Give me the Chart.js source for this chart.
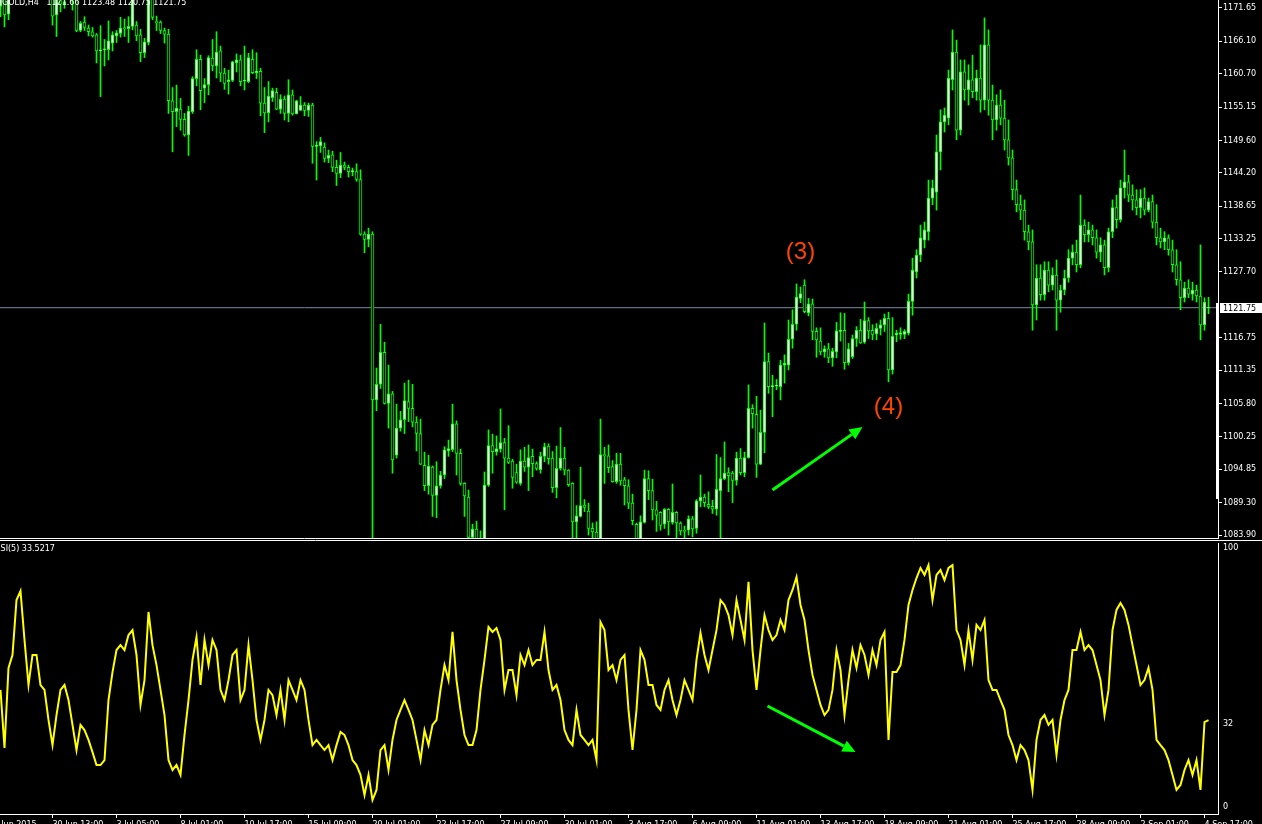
<!DOCTYPE html>
<html>
<head>
<meta charset="utf-8">
<title>GOLD H4 with RSI(5)</title>
<script src="https://cdn.jsdelivr.net/npm/chart.js@4.4.1/dist/chart.umd.min.js"></script>
<style>
  html, body { margin: 0; padding: 0; background: #000; overflow: hidden; }
  #wrap { position: relative; width: 1262px; height: 824px; background: #000; }
  canvas { position: absolute; left: 0; }
  #priceChart { top: 0; }
  #rsiChart { top: 539px; }
</style>
</head>
<body>
<div id="wrap">
  <canvas id="priceChart" width="1262" height="539"></canvas>
  <canvas id="rsiChart" width="1262" height="285"></canvas>
</div>
<script>
// H4 bars, oldest first
const opens = [
  1171.9,1173.3,1170.6,1173.8,1175.0,1174.6,1176.3,1175.6,1174.8,1175.5,
  1176.4,1175.2,1174.3,1174.1,1170.5,1173.3,1172.3,1173.2,1174.8,1173.6,
  1167.9,1169.3,1168.3,1167.7,1167.2,1164.5,1164.7,1164.7,1165.8,1167.0,
  1167.4,1168.3,1168.2,1168.6,1168.8,1167.2,1164.2,1165.9,1174.1,1169.3,
  1169.3,1167.9,1167.3,1156.2,1154.4,1154.8,1153.1,1150.5,1154.4,1159.9,
  1163.1,1158.3,1158.9,1163.3,1162.0,1164.5,1160.8,1159.4,1159.6,1162.5,
  1163.0,1159.5,1159.4,1163.1,1160.9,1161.1,1155.8,1154.2,1156.7,1157.6,
  1154.8,1156.5,1154.1,1157.2,1154.0,1154.6,1155.5,1154.6,1155.5,1148.6,
  1148.7,1148.5,1146.6,1147.2,1145.1,1144.1,1145.5,1145.1,1144.4,1144.4,
  1143.1,1134.0,1133.1,1134.0,1106.4,1109.0,1114.3,1105.8,1107.4,1097.2,
  1101.7,1103.1,1106.1,1105.0,1102.7,1100.8,1095.5,1092.1,1095.2,1090.5,
  1092.1,1093.9,1097.9,1098.1,1102.4,1097.5,1092.5,1090.2,1083.5,1084.9,
  1082.8,1082.2,1092.2,1098.8,1097.8,1098.2,1099.3,1096.7,1096.2,1094.3,
  1092.5,1096.2,1095.2,1097.0,1095.8,1094.8,1097.0,1098.7,1096.7,1091.8,
  1095.0,1096.7,1094.7,1092.5,1086.1,1087.0,1088.9,1087.9,1085.0,1084.4,
  1082.8,1097.3,1097.1,1095.3,1092.8,1095.7,1093.1,1092.1,1089.2,1085.7,
  1082.5,1086.0,1093.3,1091.3,1088.1,1087.7,1085.7,1088.2,1086.0,1087.7,
  1085.9,1084.7,1084.7,1086.6,1085.0,1089.6,1090.2,1089.0,1088.7,1088.2,
  1091.3,1093.3,1094.3,1094.2,1093.0,1096.7,1094.3,1096.8,1105.0,1104.0,
  1095.7,1101.0,1112.8,1108.6,1108.7,1108.6,1112.2,1112.2,1116.5,1119.0,
  1123.3,1125.5,1120.9,1122.4,1117.8,1116.2,1114.4,1114.9,1113.4,1114.4,
  1117.8,1118.0,1112.6,1113.6,1116.6,1118.0,1116.0,1119.6,1118.0,1117.4,
  1118.3,1118.9,1120.0,1111.4,1117.2,1117.3,1117.3,1117.5,1122.8,1127.7,
  1130.5,1133.0,1134.4,1140.0,1141.0,1147.7,1152.7,1153.3,1159.7,1164.3,
  1151.3,1161.0,1158.0,1159.7,1157.7,1160.0,1156.3,1165.5,1156.3,1153.0,
  1155.5,1153.3,1149.7,1146.7,1141.4,1138.9,1138.0,1134.4,1132.7,1122.2,
  1126.7,1123.9,1128.0,1125.5,1127.2,1123.0,1124.7,1126.7,1130.0,1131.0,
  1128.9,1135.5,1133.9,1134.7,1133.4,1131.0,1132.2,1128.4,1134.4,1138.4,
  1136.4,1141.7,1142.7,1140.5,1139.7,1138.4,1140.0,1138.0,1139.4,1136.0,
  1133.4,1132.7,1133.4,1131.4,1128.9,1126.4,1123.4,1125.0,1124.0,1124.7,
  1123.7,1118.9,1121.66
];
const highs = [
  1174.6,1174.1,1174.4,1175.6,1176.2,1176.8,1177.4,1176.4,1176.0,1177.0,
  1177.2,1176.1,1175.4,1175.2,1173.5,1173.8,1173.5,1175.5,1175.8,1174.2,
  1169.4,1170.2,1168.8,1168.4,1167.4,1168.7,1166.4,1169.5,1167.7,1167.9,
  1170.1,1169.8,1170.2,1174.6,1169.4,1168.1,1166.6,1175.2,1174.9,1170.3,
  1169.5,1168.3,1168.1,1158.4,1158.8,1156.6,1154.1,1155.3,1160.2,1164.7,
  1163.8,1159.9,1163.7,1166.4,1167.7,1165.3,1161.6,1161.3,1162.8,1164.0,
  1163.8,1165.3,1164.1,1164.7,1164.2,1161.6,1158.4,1159.4,1158.3,1158.3,
  1157.2,1157.0,1159.7,1158.0,1156.3,1156.9,1155.9,1155.8,1155.8,1149.4,
  1150.1,1149.2,1148.0,1147.8,1146.3,1147.6,1146.0,1145.5,1145.0,1145.7,
  1144.7,1134.4,1135.0,1134.4,1111.7,1119.0,1116.0,1112.2,1107.8,1105.7,
  1104.5,1109.2,1109.7,1109.0,1103.6,1103.2,1097.7,1097.2,1095.4,1096.1,
  1094.5,1098.6,1099.7,1105.7,1102.9,1098.2,1092.6,1091.4,1085.7,1086.2,
  1084.6,1094.4,1101.4,1100.7,1100.4,1104.9,1100.0,1102.1,1096.5,1095.7,
  1098.1,1098.5,1098.9,1098.2,1096.1,1097.7,1099.2,1099.1,1097.8,1098.7,
  1101.8,1098.5,1094.8,1092.6,1088.8,1095.2,1089.8,1089.2,1085.9,1086.1,
  1103.2,1098.5,1098.9,1096.3,1097.5,1097.5,1093.5,1093.1,1090.7,1085.9,
  1087.1,1094.7,1094.6,1093.2,1089.5,1087.8,1088.3,1088.3,1092.4,1087.8,
  1086.1,1085.4,1087.1,1087.0,1089.8,1093.9,1090.7,1091.1,1089.7,1097.3,
  1096.8,1099.4,1095.1,1094.5,1097.7,1098.3,1097.7,1108.9,1105.6,1107.0,
  1104.7,1119.2,1114.2,1110.5,1109.8,1113.0,1113.9,1119.7,1121.4,1125.7,
  1125.2,1126.4,1123.3,1123.2,1118.4,1118.4,1115.4,1115.8,1115.0,1119.3,
  1120.9,1120.8,1115.8,1117.2,1118.6,1119.8,1122.7,1120.1,1118.9,1119.1,
  1119.7,1120.7,1121.0,1120.1,1118.0,1118.4,1118.1,1124.0,1130.0,1131.4,
  1135.5,1136.0,1143.0,1143.0,1150.5,1154.7,1155.0,1161.3,1168.0,1166.3,
  1163.0,1163.0,1162.2,1163.8,1161.3,1165.5,1170.0,1168.0,1158.8,1157.2,
  1158.0,1156.3,1153.0,1148.0,1143.0,1140.5,1139.7,1135.5,1134.7,1128.9,
  1128.9,1129.4,1129.4,1128.4,1129.7,1125.5,1128.0,1131.4,1132.2,1133.0,
  1140.5,1136.4,1136.0,1135.5,1134.7,1133.4,1133.0,1135.0,1139.7,1140.5,
  1143.0,1148.0,1143.8,1142.2,1141.4,1141.4,1141.7,1140.0,1140.5,1138.9,
  1135.0,1134.4,1133.9,1133.0,1131.4,1129.4,1126.0,1126.4,1126.0,1125.5,
  1132.2,1123.4,1123.48
];
const lows = [
  1170.2,1168.5,1169.7,1173.3,1174.1,1174.0,1175.2,1174.2,1173.6,1175.0,
  1174.9,1173.9,1173.5,1168.8,1166.9,1171.0,1171.6,1173.1,1171.3,1167.7,
  1167.7,1167.9,1167.0,1166.8,1162.5,1156.9,1162.0,1163.0,1164.5,1165.9,
  1166.8,1166.9,1165.9,1168.0,1166.2,1162.7,1163.4,1165.5,1169.7,1167.9,
  1167.4,1165.8,1154.1,1147.7,1151.9,1151.3,1150.3,1147.1,1154.1,1158.7,
  1154.7,1155.9,1157.2,1161.2,1160.0,1159.4,1158.1,1157.3,1159.4,1161.0,
  1158.7,1158.0,1159.2,1160.7,1159.9,1153.7,1150.9,1152.7,1156.1,1154.7,
  1154.1,1153.0,1152.7,1153.8,1154.0,1154.6,1153.7,1153.6,1145.8,1143.0,
  1147.6,1146.0,1145.9,1144.4,1142.1,1143.4,1144.7,1143.5,1143.7,1142.8,
  1133.8,1130.9,1131.9,1081.0,1104.6,1108.3,1105.7,1101.7,1094.2,1096.7,
  1101.2,1100.8,1102.8,1101.9,1097.9,1095.6,1091.3,1090.7,1087.0,1086.8,
  1091.7,1093.3,1097.0,1097.8,1093.9,1092.2,1087.0,1083.0,1082.8,1082.0,
  1081.4,1081.7,1092.0,1094.2,1097.2,1097.7,1088.1,1095.8,1091.7,1092.5,
  1092.2,1094.5,1091.3,1093.6,1094.7,1094.2,1096.1,1095.7,1091.0,1090.1,
  1094.7,1093.9,1092.0,1082.5,1082.5,1086.9,1087.8,1083.9,1082.5,1081.4,
  1082.0,1092.5,1094.3,1092.7,1092.5,1092.2,1088.9,1088.3,1085.6,1081.7,
  1081.7,1085.9,1089.8,1086.4,1084.5,1084.7,1085.0,1083.9,1085.7,1082.8,
  1083.9,1082.8,1083.9,1083.6,1084.2,1088.6,1088.6,1088.3,1087.5,1087.2,
  1081.7,1093.1,1091.1,1089.3,1092.2,1093.9,1093.6,1096.7,1101.7,1093.5,
  1095.6,1097.6,1107.5,1103.6,1108.1,1106.4,1109.2,1111.4,1115.0,1118.0,
  1122.6,1120.9,1120.4,1116.4,1113.5,1113.9,1113.5,1112.6,1112.0,1113.4,
  1116.2,1111.5,1112.2,1113.3,1115.3,1115.8,1115.8,1116.6,1116.4,1116.4,
  1117.2,1117.8,1109.4,1110.7,1116.1,1116.5,1116.6,1117.2,1120.5,1126.7,
  1129.4,1131.7,1133.0,1138.9,1138.0,1144.7,1151.0,1152.2,1158.0,1149.7,
  1150.5,1156.3,1155.5,1156.7,1156.3,1154.3,1154.7,1153.8,1149.7,1151.3,
  1152.2,1148.0,1145.5,1139.7,1137.7,1136.4,1133.0,1131.4,1118.0,1119.7,
  1123.0,1123.0,1124.4,1124.7,1118.0,1121.0,1123.9,1126.0,1128.9,1127.7,
  1128.4,1132.7,1132.7,1132.2,1130.0,1129.4,1127.2,1127.7,1133.4,1135.0,
  1136.0,1140.0,1139.4,1138.0,1137.2,1136.7,1137.2,1137.7,1135.0,1132.2,
  1131.7,1131.4,1130.5,1127.7,1125.5,1121.4,1122.7,1123.4,1123.0,1122.7,
  1116.4,1118.0,1120.75
];
const closes = [
  1173.3,1170.5,1173.8,1175.0,1174.6,1176.3,1175.6,1174.8,1175.5,1176.4,
  1175.2,1174.3,1174.1,1170.3,1173.3,1172.3,1172.7,1174.8,1173.6,1167.9,
  1169.1,1168.4,1167.7,1167.0,1164.5,1164.6,1164.8,1166.2,1167.2,1167.5,
  1168.3,1168.2,1168.6,1173.5,1167.0,1164.2,1166.0,1174.1,1170.1,1169.2,
  1167.9,1167.3,1156.2,1154.4,1155.0,1153.1,1150.5,1154.5,1159.9,1163.1,
  1157.9,1158.9,1163.4,1162.0,1164.3,1160.8,1159.1,1159.7,1162.7,1163.0,
  1159.4,1159.6,1163.4,1160.9,1161.1,1155.8,1154.2,1157.0,1157.9,1154.8,
  1156.5,1154.1,1157.2,1154.0,1156.2,1155.5,1154.6,1155.5,1148.6,1148.8,
  1149.4,1146.6,1147.1,1145.1,1144.1,1145.5,1145.1,1144.4,1144.6,1143.1,
  1134.0,1133.1,1134.0,1106.4,1109.0,1114.3,1105.8,1107.4,1096.4,1101.7,
  1103.1,1106.3,1105.0,1102.7,1100.8,1095.7,1092.1,1095.4,1090.5,1092.1,
  1093.9,1098.1,1098.3,1102.4,1097.5,1092.5,1090.4,1083.5,1084.9,1082.8,
  1082.2,1092.2,1098.8,1097.8,1098.3,1099.3,1096.7,1096.0,1093.5,1092.7,
  1096.2,1095.2,1096.8,1095.8,1095.0,1097.0,1098.6,1096.6,1091.8,1095.0,
  1096.7,1094.7,1092.3,1086.1,1087.1,1088.8,1088.5,1085.0,1084.4,1082.8,
  1097.3,1097.1,1095.1,1092.8,1095.7,1092.9,1092.1,1089.2,1086.3,1082.5,
  1086.1,1093.3,1091.3,1088.1,1087.2,1085.5,1088.2,1086.1,1087.7,1085.9,
  1084.6,1084.5,1086.6,1084.9,1089.6,1090.2,1089.3,1088.6,1088.2,1091.5,
  1093.3,1094.2,1093.8,1093.0,1096.7,1094.3,1096.8,1105.0,1104.1,1095.7,
  1101.0,1112.8,1108.6,1108.7,1108.8,1112.2,1112.5,1116.5,1119.0,1123.5,
  1124.1,1121.1,1122.4,1117.8,1116.4,1114.4,1114.9,1113.4,1114.5,1117.9,
  1118.0,1112.6,1114.9,1116.6,1118.0,1115.9,1119.6,1117.9,1117.3,1118.3,
  1118.9,1120.0,1111.4,1117.0,1117.5,1117.6,1117.8,1122.8,1128.0,1130.5,
  1133.4,1134.7,1140.0,1141.7,1147.7,1152.7,1153.8,1160.0,1164.3,1151.3,
  1161.0,1158.0,1159.7,1157.7,1160.0,1156.3,1165.5,1156.3,1153.0,1155.5,
  1153.3,1149.7,1146.7,1141.4,1138.9,1138.0,1134.4,1132.7,1122.2,1126.7,
  1123.9,1128.0,1125.5,1127.2,1123.0,1124.7,1126.7,1130.0,1131.0,1128.9,
  1135.5,1133.9,1134.7,1133.4,1131.0,1132.2,1128.4,1134.4,1138.4,1136.4,
  1141.7,1142.7,1140.5,1139.7,1138.4,1140.0,1138.0,1139.4,1136.0,1133.4,
  1132.7,1133.4,1131.4,1128.9,1126.4,1123.4,1125.0,1124.0,1124.7,1123.7,
  1118.9,1122.7,1121.75
];
// RSI(5), one value per bar
const rsiValues = [
  45.2,22.8,53.7,58.7,79.9,83.4,64.5,47.1,58.7,58.7,
  47.1,45.2,33.6,23.9,35.5,45.2,47.1,41.3,31.7,22.0,
  31.7,29.7,25.9,21.2,16.2,16.2,18.1,41.3,52.1,60.6,
  62.5,60.6,66.4,68.3,58.7,39.4,49.0,75.3,62.5,54.8,
  45.2,35.5,18.1,14.3,16.2,12.4,27.8,41.3,56.8,65.6,
  47.1,64.5,54.8,64.5,60.6,45.2,41.3,49.0,58.7,60.6,
  41.3,45.2,62.5,49.0,33.6,25.9,33.6,45.2,43.2,35.5,
  45.2,33.6,49.0,45.2,41.3,49.0,45.2,33.6,23.9,25.9,
  23.9,22.0,23.9,18.1,23.9,29.0,27.8,23.9,18.1,16.2,
  12.4,4.6,12.4,2.7,6.6,22.0,23.9,14.3,25.9,33.6,
  37.5,41.3,37.5,33.6,25.9,18.1,29.7,23.9,31.7,33.6,
  45.2,54.8,49.0,67.6,49.0,37.5,27.8,23.9,23.9,29.7,
  45.2,56.8,69.5,67.6,69.1,64.5,45.2,52.9,52.9,43.2,
  58.7,54.8,60.6,54.8,56.8,56.8,67.6,52.9,45.2,47.1,
  41.3,29.7,25.9,23.9,37.5,27.8,25.9,23.9,25.9,18.1,
  71.4,68.3,52.9,54.8,49.0,56.8,58.7,37.5,22.0,37.5,
  60.6,56.8,47.1,47.1,39.4,37.5,45.2,49.0,41.3,35.5,
  41.3,49.0,45.2,41.3,56.8,67.2,58.7,52.9,60.6,68.3,
  79.9,78.0,74.1,66.4,79.9,72.2,64.5,86.9,60.6,45.2,
  60.6,74.1,68.3,64.5,66.4,72.2,68.3,79.9,83.8,88.8,
  78.0,72.2,60.6,51.0,45.2,39.4,35.5,37.5,45.2,60.6,
  52.9,35.5,49.0,60.6,53.7,62.5,58.7,51.0,60.6,54.8,
  64.5,67.6,25.9,52.1,52.1,54.8,64.5,78.0,83.8,88.4,
  92.3,89.6,93.4,79.9,89.6,91.5,87.6,92.3,93.4,68.3,
  64.5,54.8,68.3,56.8,70.3,68.3,72.2,49.0,45.2,45.2,
  41.3,37.5,27.8,23.9,18.1,23.9,22.0,18.1,6.6,25.9,
  33.6,35.5,31.7,33.6,20.1,33.6,41.3,45.2,60.6,60.6,
  67.6,60.6,62.5,60.6,54.8,49.0,35.5,45.2,68.3,76.1,
  78.8,76.1,70.3,62.5,54.8,47.1,49.0,53.7,45.2,25.9,
  23.9,22.0,18.1,12.4,6.6,8.5,14.3,18.1,12.4,18.1,
  6.6,32.8,33.5217
];
const priceTicks = [1171.65, 1166.10, 1160.70, 1155.15, 1149.60, 1144.20, 1138.65, 1133.25,
  1127.70, 1116.75, 1111.35, 1105.80, 1100.25, 1094.85, 1089.30, 1083.90];
const rsiTicks = [0, 32, 100];
// one date label every 16 bars, the first one sits just left of the window
const timeLabels = ['26 Jun 2015', '30 Jun 13:00', '3 Jul 05:00', '8 Jul 01:00', '10 Jul 17:00',
  '15 Jul 09:00', '20 Jul 01:00', '22 Jul 17:00', '27 Jul 09:00', '30 Jul 01:00', '3 Aug 17:00',
  '6 Aug 09:00', '11 Aug 01:00', '13 Aug 17:00', '18 Aug 09:00', '21 Aug 01:00', '25 Aug 17:00',
  '28 Aug 09:00', '2 Sep 01:00', '4 Sep 17:00'];
const symbol = 'GOLD,H4';

// hand drawn marks on the chart (bar index, value)
const waveLabels = ['(3)', '(4)'];
const waveBars = [200, 222];
const wavePrices = [1130.9, 1105.2];
const priceArrow = [193, 1091.4, 215.5, 1101.9];
const rsiArrow = [191.75, 39.0, 213.75, 21.2];
// white range marker hugging the price axis
const axisRange = [1089.8, 1122.5];

const n = closes.length;
const idx = closes.map((_, i) => i);
const FONT = "'DejaVu Sans', 'Liberation Sans', sans-serif";
const X_MIN = -0.125, X_MAX = 304.375;

Chart.defaults.font.family = FONT;
Chart.defaults.font.size = 8;
Chart.defaults.color = '#ffffff';

function noPad(s) {
    s.paddingTop = 0; s.paddingBottom = 0; s.paddingLeft = 0; s.paddingRight = 0;
}

function drawArrow(ctx, x1, y1, x2, y2) {
    const a = Math.atan2(y2 - y1, x2 - x1);
    const head = 13, wing = 6;
    const bx = x2 - head * Math.cos(a), by = y2 - head * Math.sin(a);
    ctx.strokeStyle = '#00ff00';
    ctx.fillStyle = '#00ff00';
    ctx.lineWidth = 3;
    ctx.beginPath();
    ctx.moveTo(x1, y1);
    ctx.lineTo(bx, by);
    ctx.stroke();
    ctx.beginPath();
    ctx.moveTo(x2, y2);
    ctx.lineTo(bx + wing * Math.sin(a), by - wing * Math.cos(a));
    ctx.lineTo(bx - wing * Math.sin(a), by + wing * Math.cos(a));
    ctx.closePath();
    ctx.fill();
}

const priceDecor = {
    id: 'priceDecor',
    afterDraw(chart) {
        const { ctx, chartArea: a, scales: { x, y } } = chart;
        ctx.save();
        ctx.strokeStyle = '#ffffff';
        ctx.lineWidth = 1;
        ctx.beginPath();
        ctx.moveTo(0, a.bottom - 0.5);
        ctx.lineTo(a.right, a.bottom - 0.5);
        ctx.stroke();

        // range marker along the axis
        const r1 = y.getPixelForValue(axisRange[1]), r0 = y.getPixelForValue(axisRange[0]);
        ctx.fillStyle = '#ffffff';
        ctx.fillRect(a.right - 2, Math.round(r1), 2, Math.round(r0 - r1));

        // current price box on the axis
        const last = closes[n - 1];
        const py = Math.round(y.getPixelForValue(last));
        ctx.fillStyle = '#ffffff';
        ctx.fillRect(a.right + 2, py - 5, 42, 10);
        ctx.fillStyle = '#000000';
        ctx.font = '8px ' + FONT;
        ctx.textAlign = 'left';
        ctx.textBaseline = 'middle';
        ctx.fillText(last.toFixed(2), a.right + 5, py + 0.5);

        // header, mostly cut off by the top edge
        ctx.fillStyle = '#ffffff';
        ctx.textBaseline = 'alphabetic';
        ctx.fillText(symbol + '   ' + [opens[n - 1], highs[n - 1], lows[n - 1], closes[n - 1]]
            .map(v => v.toFixed(2)).join(' '), 2, 4.5);

        // wave labels and arrow
        ctx.font = '24px "Liberation Sans", Arial, sans-serif';
        ctx.fillStyle = '#ff4500';
        ctx.textAlign = 'center';
        ctx.textBaseline = 'middle';
        waveLabels.forEach((t, k) => {
            ctx.fillText(t, x.getPixelForValue(waveBars[k]), y.getPixelForValue(wavePrices[k]));
        });
        drawArrow(ctx, x.getPixelForValue(priceArrow[0]), y.getPixelForValue(priceArrow[1]),
            x.getPixelForValue(priceArrow[2]), y.getPixelForValue(priceArrow[3]));
        ctx.restore();
    }
};

const rsiDecor = {
    id: 'rsiDecor',
    afterDraw(chart) {
        const { ctx, chartArea: a, scales: { x, y } } = chart;
        ctx.save();
        ctx.strokeStyle = '#ffffff';
        ctx.lineWidth = 1;
        ctx.beginPath();
        ctx.moveTo(0, 1.5);
        ctx.lineTo(chart.width, 1.5);
        ctx.stroke();
        ctx.fillStyle = '#ffffff';
        ctx.font = '8px ' + FONT;
        ctx.textAlign = 'left';
        ctx.textBaseline = 'top';
        ctx.fillText('RSI(5) ' + rsiValues[n - 1].toFixed(4), -5, a.top + 2);
        drawArrow(ctx, x.getPixelForValue(rsiArrow[0]), y.getPixelForValue(rsiArrow[1]),
            x.getPixelForValue(rsiArrow[2]), y.getPixelForValue(rsiArrow[3]));
        ctx.restore();
    }
};

new Chart(document.getElementById('priceChart'), {
    type: 'bar',
    data: {
        datasets: [
            {
                label: 'body',
                data: idx.map(i => ({ x: i, y: [opens[i], closes[i]] })),
                backgroundColor: idx.map(i => closes[i] >= opens[i] ? '#ffffff' : '#000000'),
                borderColor: '#00ff00',
                borderWidth: 1,
                borderSkipped: false,
                barThickness: 3,
                minBarLength: 1,
                grouped: false,
                order: 0
            },
            {
                label: 'wick',
                data: idx.map(i => ({ x: i, y: [lows[i], highs[i]] })),
                backgroundColor: '#00ff00',
                borderWidth: 0,
                barThickness: 1,
                grouped: false,
                order: 1
            },
            {
                type: 'line',
                label: 'bid',
                data: [{ x: X_MIN, y: closes[n - 1] }, { x: X_MAX, y: closes[n - 1] }],
                borderColor: '#7a8aa6',
                borderWidth: 1,
                pointRadius: 0,
                order: 2
            }
        ]
    },
    options: {
        responsive: false,
        animation: false,
        devicePixelRatio: 1,
        layout: { padding: 0, autoPadding: false },
        plugins: { legend: { display: false }, tooltip: { enabled: false } },
        scales: {
            x: { type: 'linear', min: X_MIN, max: X_MAX, offset: false, display: false },
            y: {
                type: 'linear',
                position: 'right',
                min: 1083.24,
                max: 1172.98,
                afterBuildTicks: s => { s.ticks = priceTicks.map(v => ({ value: v })); },
                ticks: { callback: v => v.toFixed(2), padding: 1, color: '#ffffff' },
                grid: { drawOnChartArea: false, color: '#ffffff', tickLength: 4 },
                border: { color: '#ffffff' },
                afterFit: s => { s.width = 44; noPad(s); }
            }
        }
    },
    plugins: [priceDecor]
});

new Chart(document.getElementById('rsiChart'), {
    type: 'line',
    data: {
        datasets: [{
            label: 'RSI(5)',
            data: idx.map(i => ({ x: i, y: rsiValues[i] })),
            borderColor: '#ffff00',
            borderWidth: 2,
            pointRadius: 0,
            tension: 0
        }]
    },
    options: {
        responsive: false,
        animation: false,
        devicePixelRatio: 1,
        layout: { padding: { top: 4, left: 0, right: 0, bottom: 0 }, autoPadding: false },
        plugins: { legend: { display: false }, tooltip: { enabled: false } },
        scales: {
            x: {
                type: 'linear',
                min: X_MIN,
                max: X_MAX,
                offset: false,
                position: 'bottom',
                afterBuildTicks: s => { s.ticks = timeLabels.map((_, k) => ({ value: 16 * k - 3 })); },
                ticks: {
                    callback: (v, k) => timeLabels[k],
                    align: 'start', maxRotation: 0, minRotation: 0, autoSkip: false,
                    padding: 2, color: '#ffffff'
                },
                grid: { drawOnChartArea: false, color: '#ffffff', tickLength: 4 },
                border: { color: '#ffffff' },
                afterFit: s => { s.height = 10; noPad(s); }
            },
            y: {
                type: 'linear',
                position: 'right',
                min: -2.7,
                max: 101.93,
                afterBuildTicks: s => { s.ticks = rsiTicks.map(v => ({ value: v })); },
                ticks: { callback: v => String(v), padding: 1, color: '#ffffff' },
                grid: { drawOnChartArea: false, color: 'rgba(0,0,0,0)', tickLength: 4 },
                border: { color: '#ffffff' },
                afterFit: s => { s.width = 44; noPad(s); }
            }
        }
    },
    plugins: [rsiDecor]
});
</script>
</body>
</html>
